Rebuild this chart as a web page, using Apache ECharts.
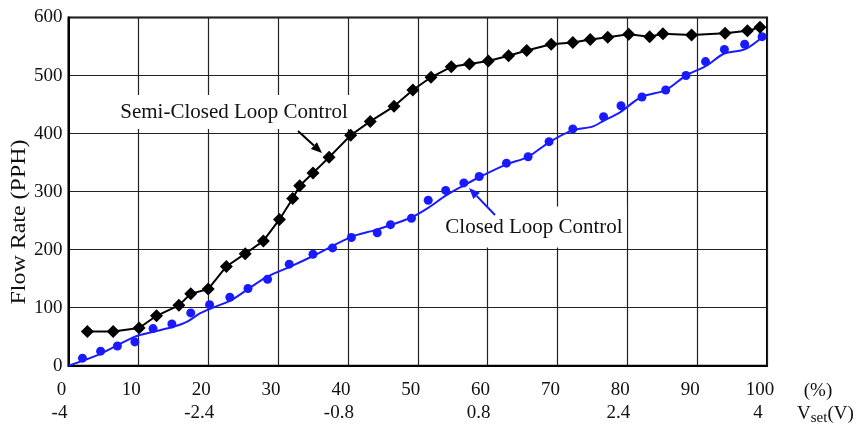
<!DOCTYPE html>
<html>
<head>
<meta charset="utf-8">
<script src="https://cdn.jsdelivr.net/npm/echarts@6/dist/echarts.min.js"></script>
<style>
	html, body { margin: 0; padding: 0; background: #fff; }
	#chart { width: 861px; height: 429px; }
</style>
</head>
<body>
<div id="chart"></div>
<script>
	// tick labels of the two x rows
	var pctTicks = [0, 10, 20, 30, 40, 50, 60, 70, 80, 90, 100];
	var voltTicks = ['-4', '', '-2.4', '', '-0.8', '', '0.8', '', '2.4', '', '4'];

	// Semi-Closed Loop Control (black diamonds)
	var semiX = [2.7, 6.4, 10.1, 12.6, 15.8, 17.5, 20.0, 22.6, 25.3, 27.9, 30.2, 32.1, 33.1, 35.0, 37.3, 40.4, 43.2, 46.6, 49.3, 51.9, 54.8, 57.4, 60.1, 63.0, 65.6, 69.1, 72.2, 74.7, 77.2, 80.2, 83.2, 85.1, 89.2, 94.0, 97.2, 99.0];
	var semiY = [59, 59, 65, 86, 104, 124, 132, 171, 193, 215, 252, 288, 310, 332, 359, 397, 421, 447, 475, 497, 515, 520, 525, 534, 543, 554, 557, 562, 566, 571, 567, 572, 570, 573, 577, 583];

	// Closed Loop Control (blue dots)
	var closedX = [2.0, 4.6, 7.0, 9.5, 12.1, 14.8, 17.5, 20.2, 23.1, 25.7, 28.5, 31.6, 35.0, 37.8, 40.5, 44.2, 46.1, 49.1, 51.5, 54.0, 56.6, 58.8, 62.7, 65.8, 68.8, 72.2, 76.6, 79.1, 82.1, 85.5, 88.4, 91.2, 93.9, 96.8, 99.3];
	var closedY = [13, 25, 34, 41, 64, 72, 91, 105, 118, 133, 149, 175, 192, 203, 221, 229, 243, 254, 285, 302, 315, 326, 349, 360, 386, 408, 429, 448, 463, 475, 500, 524, 545, 554, 567];

	// blue fitted curve
	var fitX = [0, 4.5, 9.5, 12, 15, 17, 18.8, 20.7, 23.3, 25.7, 28.4, 32, 35, 40.5, 44, 49, 51.5, 54, 56.5, 59, 62.7, 65.8, 68.8, 72.2, 75, 76.6, 79, 82, 85.5, 88.4, 91.2, 93.9, 96.8, 99.4];
	var fitY = [0, 20, 50, 58, 67, 76, 90, 100, 113, 132, 153, 172, 189, 222, 234, 255, 272, 293, 310, 326, 347, 360, 385, 406, 412, 422, 437, 463, 475, 500, 516, 538, 545, 567];

	var blue = '#1a1aff';
	var serif = '"Liberation Serif", "Times New Roman", serif';

	function zip(xs, ys) {
		return xs.map(function (x, i) { return [x, ys[i]]; });
	}

	// line + triangle head, tip at (x2, y2)
	function arrow(x1, y1, x2, y2, color) {
		var dx = x2 - x1, dy = y2 - y1;
		var len = Math.sqrt(dx * dx + dy * dy);
		var ux = dx / len, uy = dy / len;
		var hl = 11, hw = 4.5;
		var bx = x2 - ux * hl, by = y2 - uy * hl;
		return [
			{
				type: 'line', z: 5,
				shape: { x1: x1, y1: y1, x2: bx, y2: by },
				style: { stroke: color, lineWidth: 2 }
			},
			{
				type: 'polygon', z: 5,
				shape: { points: [[x2, y2], [bx - uy * hw, by + ux * hw], [bx + uy * hw, by - ux * hw]] },
				style: { fill: color }
			}
		];
	}

	var chart = echarts.init(document.getElementById('chart'));

	var option = {
		animation: false,
		grid: {
			left: 68.5,
			right: 94,
			top: 17.5,
			bottom: 63.3,
			show: true,
			borderColor: '#000',
			borderWidth: 2
		},
		xAxis: {
			type: 'value',
			min: 0,
			max: 100,
			interval: 10,
			axisLine: { show: true, lineStyle: { color: '#000', width: 2 } },
			axisTick: { show: false },
			splitLine: { show: true, lineStyle: { color: '#222', width: 1.2 } },
			axisLabel: {
				margin: 13,
				padding: [0, 14, 0, 0],
				formatter: function (v) {
					var i = pctTicks.indexOf(v);
					return '{a|' + v + '}\n{b|' + (i >= 0 ? voltTicks[i] : '') + '}';
				},
				rich: {
					a: { fontFamily: serif, fontSize: 19, color: '#111', lineHeight: 23 },
					b: { fontFamily: serif, fontSize: 19, color: '#111', lineHeight: 23, padding: [0, 4, 0, 0] }
				}
			}
		},
		yAxis: {
			type: 'value',
			min: 0,
			max: 600,
			interval: 100,
			axisLine: { show: true, lineStyle: { color: '#000', width: 2 } },
			axisTick: { show: false },
			splitLine: { show: true, lineStyle: { color: '#222', width: 1.2 } },
			axisLabel: { margin: 6, fontFamily: serif, fontSize: 19, color: '#111' }
		},
		series: [
			{
				name: 'Closed Loop Fit',
				type: 'line',
				data: zip(fitX, fitY),
				showSymbol: false,
				smooth: 0.3,
				lineStyle: { color: blue, width: 2 },
				z: 3
			},
			{
				name: 'Closed Loop Control',
				type: 'scatter',
				data: zip(closedX, closedY),
				symbol: 'circle',
				symbolSize: 9,
				itemStyle: { color: blue, opacity: 1 },
				z: 4
			},
			{
				name: 'Semi-Closed Loop Control',
				type: 'line',
				data: zip(semiX, semiY),
				symbol: 'diamond',
				symbolSize: 13,
				showAllSymbol: true,
				lineStyle: { color: '#000', width: 2 },
				itemStyle: { color: '#000' },
				z: 4
			}
		],
		graphic: [
			{
				type: 'text', z: 1,
				style: {
					text: 'Semi-Closed Loop Control', x: 234, y: 112,
					align: 'center', verticalAlign: 'middle',
					font: '21px ' + serif, fill: '#111',
					backgroundColor: '#fff', padding: [4, 6, 9, 6]
				}
			},
			{
				type: 'text', z: 1,
				style: {
					text: 'Closed Loop Control', x: 534, y: 227,
					align: 'center', verticalAlign: 'middle',
					font: '21px ' + serif, fill: '#111',
					backgroundColor: '#fff', padding: [12, 4, 8, 4]
				}
			},
			{
				type: 'text',
				x: 19, y: 222, rotation: Math.PI / 2, scaleX: 1.14,
				style: {
					text: 'Flow Rate (PPH)', x: 0, y: 0,
					align: 'center', verticalAlign: 'middle',
					font: '21px ' + serif, fill: '#111'
				}
			},
			{
				type: 'text',
				style: {
					text: '(%)', x: 818, y: 391,
					align: 'center', verticalAlign: 'middle',
					font: '19px ' + serif, fill: '#111'
				}
			},
			{
				type: 'text',
				style: {
					text: '{v|V}{s|set}{v|(V)}', x: 797, y: 414,
					align: 'left', verticalAlign: 'middle',
					rich: {
						v: { font: '19px ' + serif, fill: '#111' },
						s: { font: '15px ' + serif, fill: '#111', padding: [9, 0, 0, 0] }
					}
				}
			}
		].concat(arrow(298, 131, 322, 153, '#000'), arrow(495, 215, 469, 188, blue))
	};

	option && chart.setOption(option);
</script>
</body>
</html>
